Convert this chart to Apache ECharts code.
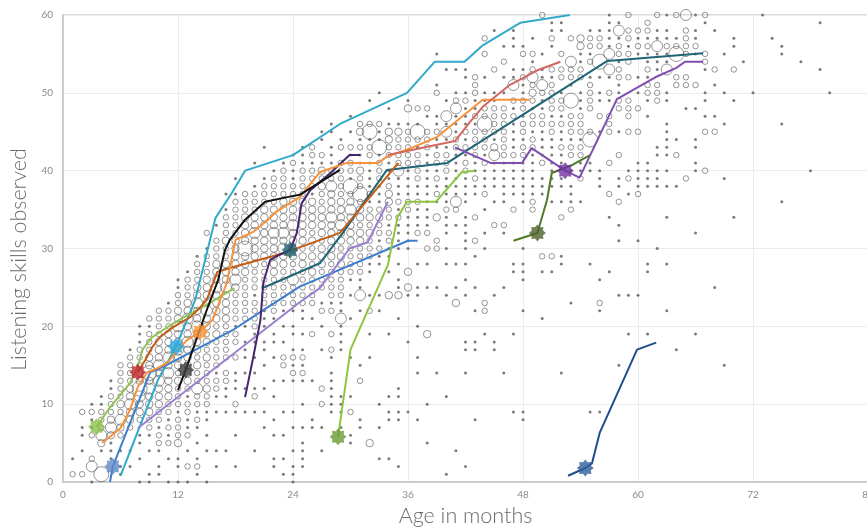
<!DOCTYPE html>
<html><head><meta charset="utf-8">
<script src="https://cdn.jsdelivr.net/npm/echarts@6/dist/echarts.min.js"></script>
<style>html,body{margin:0;padding:0;background:#fff}#c{width:867px;height:529px}</style>
</head><body><div id="c"></div>
<script>
// Axis ticks
const xTicks = [0, 12, 24, 36, 48, 60, 72, 84];
const yTicks = [0, 10, 20, 30, 40, 50, 60];

// Observation bubbles: each row = [age, score, size, score, size, ...]
// size 1 = single observation (dot), 2..5 = increasing counts (rings)
const bubblesAge0to11 = [
  [1, 3,1, 1,2],
  [2, 1,2, 4,1, 6,1, 7,1, 9,2],
  [3, 0,1, 2,4, 3,2, 6,2, 7,1, 8,1, 9,2, 10,1],
  [4, 1,5, 4,1, 5,3, 6,4, 7,2, 8,2, 9,2, 10,1, 11,1],
  [5, 3,1, 4,1, 5,1, 6,3, 7,4, 8,3, 9,2, 10,2, 11,2, 12,1, 13,1],
  [6, 1,1, 2,1, 4,1, 6,2, 7,3, 8,4, 9,2, 10,3, 11,2, 12,2, 13,2, 14,2, 15,2],
  [7, 2,1, 4,1, 7,2, 8,3, 9,3, 10,4, 11,3, 12,3, 13,2, 14,2, 15,2, 16,2, 17,1],
  [8, 0,1, 3,1, 5,1, 6,1, 8,2, 9,3, 10,3, 11,4, 12,5, 13,3, 14,3, 15,2, 16,2, 17,2, 18,1, 19,1, 20,1],
  [9, 0,1, 1,1, 4,1, 6,1, 7,2, 8,2, 9,3, 10,3, 11,3, 12,4, 13,3, 14,5, 15,3, 16,3, 17,2, 18,2, 19,2, 20,1, 21,2],
  [10, 1,1, 2,1, 4,1, 5,2, 6,2, 7,1, 8,2, 9,2, 10,3, 11,3, 12,3, 13,4, 14,3, 15,4, 16,3, 17,3, 18,3, 19,2, 20,2, 21,2, 22,2],
  [11, 0,1, 3,1, 5,2, 6,1, 7,2, 8,1, 9,2, 10,2, 11,3, 12,3, 13,3, 14,4, 15,3, 16,4, 17,3, 18,3, 19,3, 20,2, 21,2, 22,2, 23,1]
];
const bubblesAge12to23 = [
  [12, 0,1, 2,1, 3,1, 5,3, 6,2, 7,2, 8,2, 9,1, 10,2, 11,2, 12,2, 13,3, 14,2, 15,3, 16,3, 17,4, 18,3, 19,3, 20,4, 21,3, 22,3, 23,2, 24,2, 25,1, 26,1],
  [13, 0,1, 2,2, 4,1, 6,2, 7,1, 8,1, 9,2, 10,2, 11,1, 12,2, 13,3, 14,3, 15,3, 16,3, 17,3, 18,4, 19,3, 20,3, 21,4, 22,3, 23,3, 24,2, 25,2, 26,2, 27,1],
  [14, 1,1, 2,2, 3,1, 5,1, 7,1, 8,2, 9,1, 10,2, 11,2, 12,4, 13,2, 14,2, 15,3, 16,2, 17,3, 18,3, 19,3, 20,4, 21,3, 22,3, 23,4, 24,3, 25,3, 26,2, 27,2, 28,2, 29,1],
  [15, 0,1, 4,1, 6,1, 8,1, 9,1, 10,2, 11,2, 12,3, 13,2, 14,2, 15,2, 16,3, 17,2, 18,3, 19,2, 20,3, 21,3, 22,4, 23,3, 24,3, 25,3, 26,3, 27,2, 28,2, 29,2, 30,1, 32,2],
  [16, 2,1, 4,1, 9,1, 11,1, 12,2, 13,2, 14,1, 15,2, 16,2, 17,2, 18,2, 19,3, 20,2, 21,3, 22,3, 23,3, 24,3, 25,4, 26,3, 27,3, 28,3, 29,2, 30,2, 31,2, 33,1],
  [17, 4,1, 9,1, 11,1, 12,1, 13,2, 14,2, 16,2, 17,2, 18,2, 19,2, 20,2, 21,3, 22,3, 23,3, 24,3, 25,4, 26,3, 27,3, 28,3, 29,2, 30,2, 31,3, 32,2, 33,2, 34,2, 35,1, 37,1],
  [18, 2,1, 6,1, 9,1, 10,2, 12,1, 13,1, 14,1, 16,2, 18,2, 19,2, 20,1, 21,2, 22,2, 23,2, 24,2, 25,3, 26,4, 27,3, 28,3, 29,3, 30,3, 31,3, 32,2, 33,2, 34,2, 35,2, 36,2, 37,1, 39,1],
  [19, 9,1, 12,1, 14,1, 16,1, 17,1, 18,1, 20,1, 21,2, 22,2, 23,2, 24,2, 25,2, 26,2, 27,3, 28,3, 29,3, 30,5, 31,3, 32,3, 33,3, 34,3, 35,2, 36,2, 37,2],
  [20, 4,1, 9,1, 11,2, 12,1, 14,1, 16,1, 18,1, 19,1, 20,2, 21,2, 22,2, 23,2, 24,1, 25,2, 26,2, 27,2, 28,3, 29,3, 30,3, 31,3, 32,4, 33,3, 34,3, 35,2, 36,2, 37,2, 38,1, 41,1],
  [21, 7,1, 9,1, 12,1, 15,1, 17,1, 18,1, 20,1, 21,1, 22,1, 23,2, 24,2, 25,2, 26,2, 27,2, 28,2, 29,3, 30,3, 31,3, 32,3, 33,3, 34,3, 35,3, 36,2, 37,2, 38,2, 39,1, 43,1],
  [22, 2,1, 3,1, 6,1, 8,1, 11,1, 13,1, 16,1, 18,1, 19,1, 21,1, 22,2, 23,2, 24,2, 25,2, 26,2, 27,3, 28,3, 29,3, 30,3, 31,3, 32,4, 33,3, 34,3, 35,3, 36,2, 37,2, 38,2, 39,2, 40,1],
  [23, 1,1, 3,1, 6,1, 9,1, 13,1, 15,2, 16,2, 18,1, 20,1, 22,1, 23,2, 24,2, 25,2, 26,2, 27,2, 28,3, 29,3, 30,4, 31,3, 32,4, 33,3, 34,3, 35,3, 36,3, 37,2, 38,2, 39,2, 40,2, 41,1]
];
const bubblesAge24to35 = [
  [24, 0,1, 1,1, 2,1, 4,1, 7,1, 9,1, 13,1, 14,2, 15,1, 16,2, 17,1, 19,1, 20,1, 22,1, 23,2, 24,2, 25,2, 26,4, 27,2, 28,2, 29,3, 30,3, 31,3, 32,3, 33,4, 34,3, 35,3, 36,3, 37,2, 38,2, 39,1, 40,1, 41,2, 42,1],
  [25, 2,1, 3,1, 4,1, 5,1, 7,1, 10,1, 13,1, 14,2, 15,1, 16,2, 17,1, 19,1, 21,1, 22,1, 23,2, 24,2, 25,2, 26,2, 27,2, 28,3, 29,3, 30,2, 31,3, 32,3, 33,3, 34,3, 35,3, 36,3, 37,2, 38,2, 39,2, 40,2, 41,1, 42,1, 43,1],
  [26, 7,1, 8,1, 13,1, 19,2, 21,1, 23,2, 24,2, 25,2, 26,2, 27,3, 28,2, 29,3, 30,2, 31,3, 32,2, 33,3, 34,3, 35,3, 36,3, 37,1, 38,2, 39,2, 40,2, 41,1, 42,2, 43,2],
  [27, 4,1, 7,1, 10,2, 12,2, 17,1, 20,1, 22,2, 23,1, 25,2, 26,2, 27,2, 28,3, 29,3, 30,3, 31,2, 32,3, 33,3, 34,3, 35,3, 36,2, 37,2, 38,3, 39,2, 40,3, 41,1, 42,2, 44,1, 45,1],
  [28, 9,1, 10,1, 11,1, 12,1, 13,1, 14,1, 16,1, 17,2, 19,2, 22,2, 23,1, 24,2, 25,2, 26,2, 27,2, 28,2, 29,3, 30,3, 31,3, 32,3, 33,3, 34,4, 35,3, 36,3, 37,3, 38,4, 39,2, 40,2, 41,1, 42,1, 43,1, 45,1, 46,1],
  [29, 7,1, 9,1, 10,1, 11,1, 17,1, 18,1, 19,1, 20,1, 21,4, 22,1, 23,1, 24,2, 25,2, 26,2, 27,2, 28,3, 29,3, 30,2, 31,3, 32,3, 33,4, 34,3, 35,3, 36,3, 37,2, 38,2, 39,2, 40,2, 41,2, 43,2, 44,1],
  [30, 5,1, 6,1, 9,2, 11,1, 16,1, 21,1, 24,1, 26,1, 27,2, 28,2, 29,2, 30,2, 31,3, 32,3, 33,3, 34,3, 35,4, 36,3, 37,2, 38,5, 39,1, 40,2, 41,2, 42,1, 43,2, 45,1, 47,1],
  [31, 7,1, 8,1, 13,2, 15,1, 22,1, 24,4, 25,1, 26,1, 27,2, 28,2, 29,2, 30,2, 31,3, 32,3, 33,2, 34,3, 35,3, 36,2, 37,5, 38,2, 39,2, 40,3, 41,1, 42,1, 43,2, 44,1, 45,3, 46,2],
  [32, 5,3, 16,1, 19,1, 22,2, 24,1, 27,1, 28,1, 29,2, 30,2, 31,2, 32,3, 33,2, 34,3, 35,2, 36,1, 37,2, 38,1, 39,1, 40,1, 41,1, 42,2, 43,2, 44,1, 45,5, 46,2, 49,1],
  [33, 3,1, 7,1, 10,1, 22,1, 24,1, 28,1, 29,1, 30,2, 31,1, 32,2, 33,2, 34,3, 35,2, 36,1, 37,1, 38,1, 39,2, 40,2, 41,2, 42,1, 43,5, 44,1, 45,1, 46,2, 50,1],
  [34, 3,1, 8,1, 9,1, 11,1, 19,1, 24,3, 27,1, 29,1, 30,1, 31,2, 32,2, 33,1, 34,2, 35,2, 36,3, 37,3, 38,2, 39,1, 40,1, 41,1, 42,2, 43,2, 44,3, 45,3, 46,1, 48,1],
  [35, 2,1, 8,1, 9,1, 11,1, 12,1, 21,1, 24,3, 25,1, 26,1, 28,1, 30,1, 31,1, 32,1, 33,1, 34,2, 35,1, 36,2, 37,1, 38,1, 39,1, 40,4, 41,2, 42,2, 43,2, 44,2, 45,3, 46,1]
];
const bubblesAge36to47 = [
  [36, 9,1, 18,1, 24,1, 25,3, 27,3, 30,1, 31,1, 32,1, 33,1, 34,1, 35,2, 36,2, 37,1, 38,1, 39,1, 40,1, 41,2, 42,2, 43,2, 44,2, 45,2, 46,1, 48,3, 49,1],
  [37, 8,1, 14,1, 16,1, 20,1, 24,1, 25,1, 28,1, 32,2, 33,1, 34,1, 35,1, 36,2, 37,1, 38,1, 39,2, 40,2, 41,2, 42,2, 43,1, 44,2, 45,5, 46,1, 48,2],
  [38, 5,1, 10,1, 19,3, 25,1, 28,1, 30,2, 32,2, 33,1, 34,1, 35,1, 36,1, 37,1, 38,1, 39,1, 40,1, 41,1, 42,1, 43,2, 44,2, 45,2, 47,1, 48,2],
  [39, 14,1, 25,1, 30,2, 31,2, 34,3, 36,1, 37,2, 38,1, 39,2, 40,1, 41,2, 42,2, 43,1, 44,1, 45,2, 46,1, 47,1, 50,2, 51,1, 55,1],
  [40, 1,1, 11,1, 24,1, 28,1, 30,1, 32,1, 33,1, 34,1, 35,2, 36,1, 37,1, 38,1, 39,1, 40,2, 41,2, 42,2, 43,1, 44,1, 45,4, 46,1, 47,4, 49,1, 53,1],
  [41, 4,1, 23,3, 25,1, 28,1, 33,1, 35,2, 36,4, 37,1, 38,1, 39,1, 40,1, 41,1, 42,1, 43,2, 44,2, 45,1, 46,1, 47,1, 48,4, 49,2, 50,1, 53,1],
  [42, 2,1, 14,1, 17,1, 18,1, 24,1, 26,1, 28,1, 30,1, 31,1, 32,1, 33,1, 34,1, 36,1, 37,1, 38,1, 39,1, 40,2, 41,2, 42,1, 43,2, 44,1, 45,2, 46,1, 47,1, 48,1, 49,2, 50,1, 52,1, 53,1],
  [43, 8,1, 17,1, 18,1, 22,1, 25,1, 29,1, 31,2, 34,2, 37,1, 38,1, 39,2, 40,1, 41,1, 42,2, 43,2, 44,2, 45,2, 46,1, 47,2, 48,1, 49,1, 50,2, 51,2, 52,2],
  [44, 19,1, 22,2, 23,2, 30,1, 32,1, 35,1, 37,2, 38,1, 39,1, 40,1, 41,2, 42,1, 43,2, 44,2, 45,2, 46,5, 47,2, 48,2, 49,1, 50,1, 52,1, 55,2, 57,2],
  [45, 17,1, 18,1, 24,1, 33,2, 36,1, 38,1, 39,1, 40,1, 41,1, 42,4, 43,3, 44,1, 45,2, 46,2, 47,2, 48,2, 49,1, 50,1, 53,2, 58,1],
  [46, 14,1, 25,1, 32,1, 33,2, 36,1, 37,1, 38,1, 39,1, 40,1, 41,1, 42,2, 43,2, 44,2, 45,2, 46,2, 47,2, 48,2, 50,1, 52,1, 54,2, 56,1],
  [47, 9,1, 19,1, 27,1, 28,1, 35,2, 37,1, 38,1, 39,1, 40,1, 41,1, 42,2, 43,1, 44,1, 45,1, 46,1, 47,2, 48,1, 49,2, 51,4, 52,1, 53,1, 56,1, 57,1, 58,1]
];
const bubblesAge48to59 = [
  [48, 8,1, 9,1, 22,1, 26,1, 27,1, 28,1, 30,1, 36,1, 37,1, 38,1, 39,1, 40,1, 41,1, 42,2, 43,2, 44,1, 45,2, 46,2, 47,1, 48,2, 49,2, 50,1, 51,1, 52,2, 53,1, 55,2, 56,1],
  [49, 35,2, 36,2, 37,1, 38,1, 39,1, 40,1, 41,1, 42,1, 43,2, 44,2, 45,1, 46,2, 47,2, 48,1, 49,2, 50,3, 51,2, 52,4, 53,2, 54,1, 55,2, 57,1],
  [50, 21,1, 27,1, 29,2, 37,1, 38,1, 39,1, 41,2, 42,1, 43,1, 44,1, 45,1, 46,2, 47,2, 48,1, 49,1, 50,2, 51,4, 52,1, 53,1, 55,1, 60,2],
  [51, 27,1, 29,2, 36,1, 38,1, 39,1, 40,1, 41,1, 42,1, 43,1, 44,1, 45,2, 46,2, 47,1, 48,2, 49,2, 50,2, 51,2, 52,1, 53,2, 56,1, 57,2, 58,1, 59,1],
  [52, 14,1, 28,1, 29,1, 34,2, 36,1, 38,1, 39,1, 41,1, 42,1, 43,2, 44,1, 45,1, 46,2, 47,1, 48,2, 49,2, 50,1, 52,2, 53,2, 55,2, 58,1, 59,1],
  [53, 23,1, 35,2, 36,1, 37,1, 38,1, 40,1, 42,2, 43,2, 44,1, 45,2, 46,2, 47,2, 49,5, 51,1, 52,2, 53,2, 54,4, 57,2],
  [54, 36,1, 39,2, 40,1, 41,1, 42,2, 43,2, 44,1, 45,2, 46,2, 47,2, 48,1, 49,1, 50,1, 52,2, 53,2, 54,1, 55,1, 56,3, 57,3],
  [55, 9,1, 28,1, 40,1, 41,1, 44,5, 45,2, 48,2, 49,2, 50,2, 51,2, 52,1, 54,2, 55,1, 56,2, 57,2, 58,1],
  [56, 9,1, 22,1, 23,2, 26,1, 38,1, 39,1, 40,1, 45,1, 47,2, 49,1, 50,1, 52,1, 54,5, 56,2, 57,2, 58,1],
  [57, 27,1, 34,1, 37,2, 41,2, 45,2, 46,2, 47,2, 49,1, 50,2, 52,1, 53,4, 55,4, 56,1, 57,1, 58,1, 59,1, 60,1],
  [58, 15,1, 24,1, 31,1, 33,1, 36,2, 38,1, 39,1, 42,2, 45,1, 48,2, 49,2, 50,1, 51,1, 52,2, 53,2, 54,1, 55,2, 56,2, 57,1, 58,4, 59,1],
  [59, 19,1, 24,1, 37,1, 39,2, 40,1, 45,2, 47,2, 48,2, 49,2, 52,2, 54,2, 55,2, 56,1, 57,2, 58,2, 60,2]
];
const bubblesAge60to84 = [
  [60, 24,1, 31,1, 37,2, 38,1, 39,1, 40,1, 41,1, 45,2, 48,2, 50,1, 52,1, 55,1, 56,2, 57,1, 58,2],
  [61, 19,1, 27,1, 28,1, 38,1, 39,1, 40,1, 41,1, 47,1, 49,1, 50,2, 51,2, 52,1, 53,2, 54,1, 55,1, 56,2, 57,1, 58,2, 59,2],
  [62, 30,1, 38,1, 39,1, 40,1, 42,1, 43,1, 49,2, 50,2, 51,2, 53,1, 54,1, 55,1, 56,4, 57,1, 58,1, 60,2],
  [63, 22,1, 28,1, 34,1, 38,1, 40,1, 42,1, 43,1, 44,1, 45,1, 46,1, 49,1, 50,1, 53,4, 54,1, 55,1, 56,2, 57,1, 58,1, 60,1],
  [64, 17,1, 38,1, 42,2, 44,1, 51,2, 52,2, 55,5, 56,2, 57,1, 60,2],
  [65, 39,2, 48,1, 51,2, 52,2, 55,2, 56,2, 57,2, 58,2, 60,4],
  [66, 19,1, 32,1, 40,1, 41,1, 43,1, 44,1, 48,1, 51,2, 55,1, 56,2, 57,1, 58,1, 60,1],
  [67, 40,2, 45,2, 47,1, 49,1, 50,1, 53,1, 54,2, 55,2, 59,1, 60,2],
  [68, 25,1, 45,2, 47,1, 51,1, 53,2, 58,1],
  [69, 15,1, 39,1, 46,1, 50,1, 55,1],
  [70, 34,1, 49,1, 53,2, 56,1, 57,1],
  [71, 54,1],
  [72, 50,1],
  [73, 60,1],
  [74, 57,1],
  [75, 36,1, 46,1, 55,1, 56,1],
  [77, 54,1],
  [78, 40,1],
  [79, 53,1, 59,1],
  [80, 50,1]
];

// Individual children's trajectories: [age, score]
const childCyan = [[6,0.8],[9.9,13.1],[11.8,17.4],[13.8,23.4],[15.9,33.9],[17.6,37.1],[19,40],[24,42],[28.9,46],[35.9,50],[38.8,54],[41.9,54],[43.8,56.1],[47.7,59],[52.9,60]];
const childBlue = [[4.9,0],[5.2,2],[9.1,14.1],[10.6,14.9],[14.3,17.3],[17.7,19.5],[21.3,22.4],[24.7,25.1],[36,31],[37,31]];
const childLime = [[3.5,7.1],[4.9,9.6],[7,12.7],[7.8,14.8],[8.3,17],[9.3,18.6],[10.9,19.9],[12.5,21.1],[14.6,22.5],[17.9,24.9]];
const childOrange = [[4.1,5],[6,6.9],[7,9.3],[7.8,12.2],[8.8,14.1],[9.8,14.6],[10.9,15.3],[11.7,16.6],[12.9,18.2],[14.3,19.3],[15.6,20.8],[16.4,23.4],[17.1,25.6],[18,31.1],[19.8,32.1],[21.4,33.7],[22.1,34.6],[24.7,36.6],[26.8,39.8],[29.6,41],[32.9,41],[33.8,41.8],[36.5,43],[39,44.3],[43.8,49.1],[48.7,49.1]];
const childBlack = [[12,11.8],[12.8,14.4],[15,22.1],[16.2,26],[16.9,29.8],[17.4,31.1],[19,33.7],[21.1,36],[23.4,36.6],[24.7,36.9],[28.9,40.1]];
const childBrown = [[7.8,14.1],[8.6,15.7],[9.3,17.3],[10.1,18.6],[11.5,19.9],[13.3,21.2],[14.3,22.4],[15,23.4],[16.1,27],[17.7,27.6],[23,29.4],[28.9,32],[35,41]];
const childDarkPurple = [[19,10.9],[19.8,15.7],[20.6,20.8],[20.9,25.6],[21.6,28.5],[22.6,29.2],[23.7,29.8],[24.4,32],[24.9,35.8],[25.8,37.5],[27.9,39.7],[29.9,42],[31,42]];
const childTeal = [[20.8,24.9],[22.3,25.7],[26.8,28.1],[29.2,32],[33.8,40.1],[40.1,41],[56.8,54.1],[66.8,55.1]];
const childLavender = [[7.8,6.9],[24.7,23.1],[26.8,24.9],[29.9,30],[31.8,30.8],[33.9,36]];
const childLime2 = [[28.7,5.8],[30,17],[32.9,25.1],[33.9,27.9],[34.9,34],[35.9,36],[38.9,36],[41.6,39.8],[43,40]];
const childSalmon = [[33.9,42],[40.9,43.8],[42.5,46.3],[43.8,48.2],[46.6,51],[49.5,52.9],[51.9,54]];
const childPurple = [[40.9,43],[44.6,41],[47.9,41],[48.9,42.9],[52.4,40],[53.9,39.1],[57.8,49.2],[61.8,52],[64,53.2],[64.9,54],[66.8,54]];
const childDarkGreen = [[47,31],[49.5,32],[50.5,36.2],[51,39.7],[53.1,40.7],[55,42]];
const childNavy = [[52.7,0.8],[54.5,1.8],[55.2,2.4],[56,6.3],[59.9,17],[61.9,17.9]];

// Star markers: [age, score]
const starPoints = [[11.8,17.4],[5.2,2.0],[3.5,7.1],[7.8,14.1],[14.3,19.3],[12.8,14.4],[23.7,29.8],[28.7,5.8],[52.4,40.0],[49.5,32.0],[54.5,1.8]];

// ---- styles ----
const starColors = ['#2aa9dc','#5b87c5','#8cbf4a','#c1272d','#f7923a','#3a3a3a','#1d5c6b','#6a9a35','#7030a0','#4f6228','#2f5f9e'];
const lineDefs = [
  [childCyan, '#31a9c9'], [childBlue, '#3d7dcc'], [childLime, '#92c353'], [childLavender, '#9a7fd1'],
  [childTeal, '#1f6477'], [childBrown, '#c55a11'], [childDarkPurple, '#45256e'], [childOrange, '#f7923a'],
  [childBlack, '#111111'], [childLime2, '#8cc63f'], [childSalmon, '#d4675e'], [childPurple, '#7f4fb0'],
  [childDarkGreen, '#4e7a2a'], [childNavy, '#1f4e8c']
];
const ringSizes = {1: 3, 2: 5.5, 3: 7.5, 4: 11, 5: 15};
const starPath = 'path://M20,10 L16.65,12.76 L17.07,17.07 L12.76,16.65 L10,20 L7.24,16.65 L2.93,17.07 L3.35,12.76 L0,10 L3.35,7.24 L2.93,2.93 L7.24,3.35 L10,0 L12.76,3.35 L17.07,2.93 L16.65,7.24 Z';

function expand(rows) {
  const out = [];
  rows.forEach(r => { for (let i = 1; i < r.length; i += 2) out.push([r[0], r[i], r[i + 1]]); });
  return out;
}
const allBubbles = [].concat(
  expand(bubblesAge0to11), expand(bubblesAge12to23), expand(bubblesAge24to35),
  expand(bubblesAge36to47), expand(bubblesAge48to59), expand(bubblesAge60to84)
);
const dots = allBubbles.filter(d => d[2] === 1);
const rings = allBubbles.filter(d => d[2] > 1);

const series = [
  { type: 'scatter', data: dots, symbol: 'circle', symbolSize: ringSizes[1],
    itemStyle: { color: '#5a5a5a' }, silent: true, z: 1 },
  { type: 'scatter', data: rings, symbol: 'circle', symbolSize: d => ringSizes[d[2]],
    itemStyle: { color: 'rgba(255,255,255,0)', borderColor: '#5a5a5a', borderWidth: 0.8 }, silent: true, z: 1 }
];
lineDefs.forEach(([pts, col]) => {
  series.push({ type: 'line', data: pts, symbol: 'none', smooth: false, z: 3,
    lineStyle: { color: col, width: 2 } });
});
series.push({ type: 'scatter', z: 5, symbol: starPath, symbolSize: 17,
  data: starPoints.map((p, i) => ({ value: p, itemStyle: { color: starColors[i] } })) });

const chart = echarts.init(document.getElementById('c'), null, { renderer: 'canvas' });
chart.setOption({
  animation: false,
  backgroundColor: '#fff',
  grid: { left: 63, top: 15, width: 805, height: 467, outerBoundsMode: 'none', containLabel: false,
    show: true, borderColor: '#cfcfcf', borderWidth: 1.5 },
  xAxis: {
    type: 'value', min: xTicks[0], max: xTicks[xTicks.length - 1], interval: 12,
    name: 'Age in months', nameLocation: 'middle', nameGap: 23,
    nameTextStyle: { fontSize: 21.5, color: '#6b6b6b', fontFamily: 'Lato', fontWeight: 300 },
    axisLine: { show: true, lineStyle: { color: '#c4c4c4', width: 1.5 } },
    axisTick: { show: false },
    axisLabel: { color: '#8a8a8a', fontSize: 10, margin: 8, fontFamily: 'Lato' },
    splitLine: { show: true, lineStyle: { color: '#ececec', width: 1 } }
  },
  yAxis: {
    type: 'value', min: yTicks[0], max: yTicks[yTicks.length - 1], interval: 10,
    name: 'Listening skills observed', nameLocation: 'middle', nameGap: 32,
    nameTextStyle: { fontSize: 21.5, color: '#6b6b6b', fontFamily: 'Lato', fontWeight: 300, padding: [0, 22, 0, 0] },
    axisLine: { show: true, lineStyle: { color: '#c4c4c4', width: 1.5 } },
    axisTick: { show: false },
    axisLabel: { color: '#8a8a8a', fontSize: 10, margin: 10, fontFamily: 'Lato' },
    splitLine: { show: true, lineStyle: { color: '#ececec', width: 1 } }
  },
  series: series
});
</script>
</body></html>
